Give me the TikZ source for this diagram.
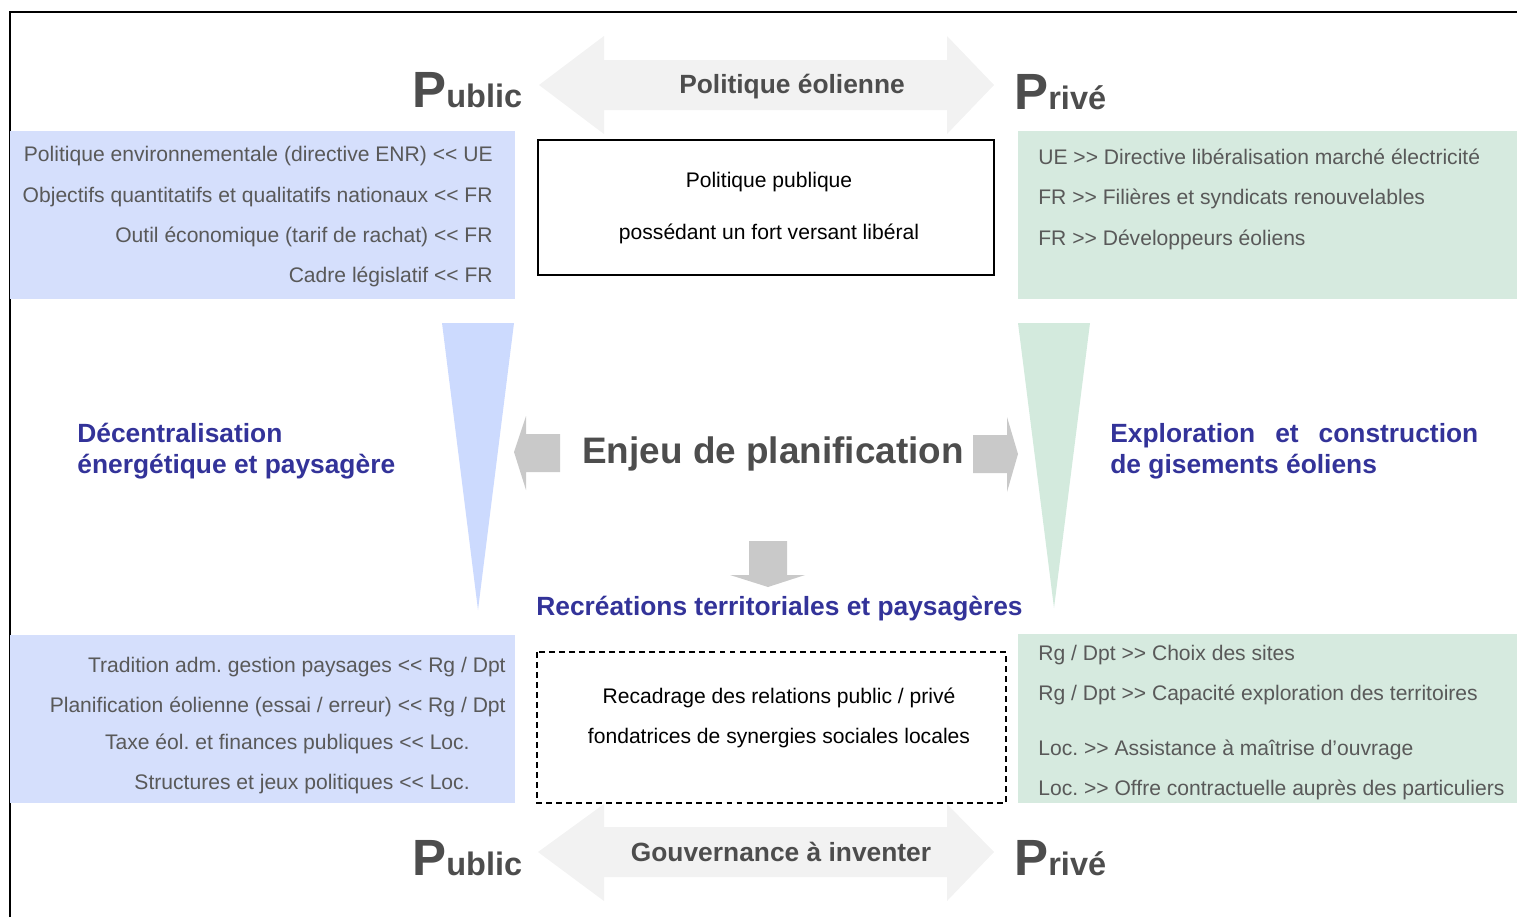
\documentclass[tikz,border=0pt]{standalone}
\usepackage{fontspec}
\setmainfont{Liberation Sans}
\frenchspacing

\definecolor{pubblue}{HTML}{D5DFFC}
\definecolor{pubtri}{HTML}{CCDAFE}
\definecolor{privgreen}{HTML}{D6EADF}
\definecolor{privtri}{HTML}{D3EADD}
\definecolor{arrowlight}{HTML}{F2F2F2}
\definecolor{arrowgrey}{HTML}{C9C9C9}
\definecolor{headblue}{HTML}{333399}
\definecolor{titlegrey}{HTML}{4D4D4D}
\definecolor{listgrey}{HTML}{595959}

\newcommand\ltlt{<{}<}
\newcommand\gtgt{>{}>}
\newcommand\sidename[2]{{\fontsize{29}{30}\selectfont #1}{\fontsize{18.5}{20}\selectfont #2}}

\begin{document}
\begin{tikzpicture}[
		x=0.02cm, y=-0.02cm,
		listtxt/.style={inner sep=0, text=listgrey, font=\fontsize{12}{14}\selectfont},
		bodytxt/.style={inner sep=0, font=\fontsize{12}{14}\selectfont},
		headtxt/.style={inner sep=0, text=headblue, font=\bfseries\fontsize{15}{18}\selectfont},
		titletxt/.style={inner sep=0, text=titlegrey, font=\bfseries\fontsize{15}{18}\selectfont},
		sidetxt/.style={inner sep=0, text=titlegrey, font=\bfseries}
	]
		\useasboundingbox (0,0) rectangle (1517,917);
		\draw[line width=1.2pt] (10,917) -- (10,12) -- (1517,12);

		% top
		\fill[arrowlight] (539,85) -- (604,36) -- (604,60) -- (947,60) -- (947,36) -- (994,85)
			-- (947,134) -- (947,110) -- (604,110) -- (604,134) -- cycle;
		\node[titletxt, anchor=base] (polEol) at (792,93) {Politique éolienne};
		\node[sidetxt, anchor=base west] (pubTop) at (412,107) {\sidename{P}{ublic}};
		\node[sidetxt, anchor=base west] (privTop) at (1014,109) {\sidename{P}{rivé}};

		\fill[pubblue] (10,131) rectangle (515,299);
		\fill[privgreen] (1018,131) rectangle (1517,299);
		\draw[line width=0.9pt] (538,140) rectangle (994,275);

		\node[listtxt, anchor=base east] (pubA1) at (493,161) {Politique environnementale (directive ENR) \ltlt{} UE};
		\node[listtxt, anchor=base east] (pubA2) at (493,202) {Objectifs quantitatifs et qualitatifs nationaux \ltlt{} FR};
		\node[listtxt, anchor=base east] (pubA3) at (493,242) {Outil économique (tarif de rachat) \ltlt{} FR};
		\node[listtxt, anchor=base east] (pubA4) at (493,282) {Cadre législatif \ltlt{} FR};

		\node[bodytxt, anchor=base] (polPubA) at (769,187) {Politique publique};
		\node[bodytxt, anchor=base] (polPubB) at (769,239) {possédant un fort versant libéral};

		\node[listtxt, anchor=base west] (privA1) at (1038,164) {UE \gtgt{} Directive libéralisation marché électricité};
		\node[listtxt, anchor=base west] (privA2) at (1038,204) {FR \gtgt{} Filières et syndicats renouvelables};
		\node[listtxt, anchor=base west] (privA3) at (1038,245) {FR \gtgt{} Développeurs éoliens};

		% middle
		\fill[pubtri] (442,323) -- (514,323) -- (478,610) -- cycle;
		\fill[privtri] (1018,323) -- (1090,323) -- (1054,608) -- cycle;

		\fill[arrowgrey] (514,452) -- (526,416) -- (526,434) -- (560,434) -- (560,472) -- (526,472) -- (526,490) -- cycle;
		\fill[arrowgrey] (1018,454) -- (1007,417) -- (1007,435) -- (973,435) -- (973,473) -- (1007,473) -- (1007,492) -- cycle;
		\fill[arrowgrey] (768,587) -- (730,575) -- (749,575) -- (749,541) -- (787,541) -- (787,575) -- (805,575) -- cycle;

		\node[titletxt, font=\bfseries\fontsize{21}{24}\selectfont, anchor=base] (enjeu) at (773,463) {Enjeu de planification};

		\node[headtxt, anchor=base west] (decA) at (77,442) {Décentralisation};
		\node[headtxt, anchor=base west] (decB) at (77,473) {énergétique et paysagère};
		\node[headtxt, anchor=base west] (explA) at (1110,442) {\makebox[7.36cm][s]{Exploration et construction}};
		\node[headtxt, anchor=base west] (explB) at (1110,473) {de gisements éoliens};
		\node[headtxt, anchor=base] (recre) at (779.5,615) {Recréations territoriales et paysagères};

		% bottom
		\fill[pubblue] (10,635) rectangle (515,803);
		\fill[privgreen] (1018,634) rectangle (1517,803);
		\draw[line width=0.9pt, dash pattern=on 3.4pt off 2.3pt] (537,652) rectangle (1006,803);

		\node[listtxt, anchor=base east] (pubB1) at (506,672) {Tradition adm. gestion paysages \ltlt{} Rg / Dpt};
		\node[listtxt, anchor=base east] (pubB2) at (506,712) {Planification éolienne (essai / erreur) \ltlt{} Rg / Dpt};
		\node[listtxt, anchor=base east] (pubB3) at (470,749) {Taxe éol. et finances publiques \ltlt{} Loc.};
		\node[listtxt, anchor=base east] (pubB4) at (470,789) {Structures et jeux politiques \ltlt{} Loc.};

		\node[bodytxt, anchor=base] (recadA) at (779,703) {Recadrage des relations public / privé};
		\node[bodytxt, anchor=base] (recadB) at (779,743) {fondatrices de synergies sociales locales};

		\node[listtxt, anchor=base west] (privB1) at (1038,660) {Rg / Dpt \gtgt{} Choix des sites};
		\node[listtxt, anchor=base west] (privB2) at (1038,700) {Rg / Dpt \gtgt{} Capacité exploration des territoires};
		\node[listtxt, anchor=base west] (privB3) at (1038,755) {Loc. \gtgt{} Assistance à maîtrise d’ouvrage};
		\node[listtxt, anchor=base west] (privB4) at (1038,795) {Loc. \gtgt{} Offre contractuelle auprès des particuliers};

		\fill[arrowlight] (538,852) -- (604,804) -- (604,827) -- (947,827) -- (947,804) -- (994,852)
			-- (947,901) -- (947,877) -- (604,877) -- (604,901) -- cycle;
		\node[titletxt, anchor=base] (gouv) at (781,861) {Gouvernance à inventer};
		\node[sidetxt, anchor=base west] (pubBot) at (412,875) {\sidename{P}{ublic}};
		\node[sidetxt, anchor=base west] (privBot) at (1014,875) {\sidename{P}{rivé}};
	\end{tikzpicture}
\end{document}
